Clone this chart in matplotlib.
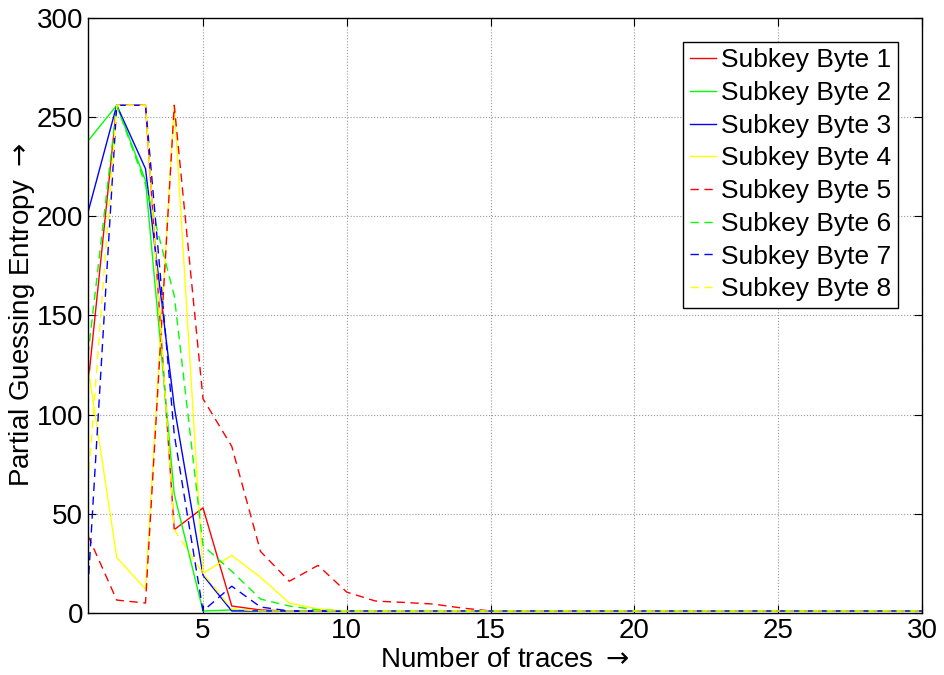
import numpy as np
import matplotlib
matplotlib.use('Agg')
from matplotlib import pyplot as plt

plt.rcParams['font.family'] = ['Liberation Sans', 'DejaVu Sans']
plt.rcParams['mathtext.fontset'] = 'dejavusans'

# number of traces 1..30
traces = list(range(1, 31))

byte1 = [115, 256, 256, 42, 53, 3.5, 1.5, 1, 1, 1, 1, 1, 1, 1, 1,
         1, 1, 1, 1, 1, 1, 1, 1, 1, 1, 1, 1, 1, 1, 1]
byte2 = [238, 256, 218, 60, 1, 1.5, 1, 1, 1, 1, 1, 1, 1, 1, 1,
         1, 1, 1, 1, 1, 1, 1, 1, 1, 1, 1, 1, 1, 1, 1]
byte3 = [202, 256, 224, 104, 19, 1, 1, 1, 1, 1, 1, 1, 1, 1, 1,
         1, 1, 1, 1, 1, 1, 1, 1, 1, 1, 1, 1, 1, 1, 1]
byte4 = [124, 28, 12, 256, 20, 29, 18, 5, 2, 1, 1, 1, 1, 1, 1,
         1, 1, 1, 1, 1, 1, 1, 1, 1, 1, 1, 1, 1, 1, 1]
byte5 = [39, 6.5, 5, 256, 108, 84, 31, 16, 24, 10.5, 6, 5.3, 4.5, 2.5, 1,
         1, 1, 1, 1, 1, 1, 1, 1, 1, 1, 1, 1, 1, 1, 1]
byte6 = [130, 256, 216, 160, 34, 21, 7, 3.5, 1.5, 1, 1, 1, 1, 1, 1,
         1, 1, 1, 1, 1, 1, 1, 1, 1, 1, 1, 1, 1, 1, 1]
byte7 = [12.6, 256, 256, 90, 1, 13.5, 3, 1, 1, 1, 1, 1, 1, 1, 1,
         1, 1, 1, 1, 1, 1, 1, 1, 1, 1, 1, 1, 1, 1, 1]
byte8 = [65, 256, 256, 42, 20, 2, 1, 1, 1, 1, 1, 1, 1, 1, 1,
         1, 1, 1, 1, 1, 1, 1, 1, 1, 1, 1, 1, 1, 1, 1]

series = [byte1, byte2, byte3, byte4, byte5, byte6, byte7, byte8]
labels = ['Subkey Byte %d' % i for i in range(1, 9)]
colors = ['#ff0000', '#00ff00', '#0000ff', '#ffff00'] * 2

fig = plt.figure(figsize=(9.44, 6.75), dpi=100)
ax = fig.add_axes([0.0932, 0.0919, 0.8835, 0.8814])

for i, (ys, lab, c) in enumerate(zip(series, labels, colors)):
    if i < 4:
        ax.plot(traces, ys, color=c, lw=1.0, label=lab)
    else:
        ax.plot(traces, ys, color=c, lw=1.0, label=lab, dashes=(6, 4))

ax.set_xlim(1, 30)
ax.set_ylim(0, 300)
ax.set_xticks([5, 10, 15, 20, 25, 30])
ax.set_yticks(range(0, 301, 50))
ax.grid(True, linestyle=':', color='#999999', linewidth=0.8)
ax.tick_params(direction='in', top=True, right=True, labelsize=20, length=6)
for s in ax.spines.values():
    s.set_linewidth(1.0)

ax.set_xlabel(r'Number of traces $\rightarrow$', fontsize=20, labelpad=2)
ax.set_ylabel(r'Partial Guessing Entropy $\rightarrow$', fontsize=20, labelpad=0)

leg = ax.legend(loc='upper right', fontsize=19, frameon=True, fancybox=False,
                edgecolor='black', framealpha=1, handlelength=1.0,
                handletextpad=0.2, labelspacing=0.33, borderpad=0.25,
                borderaxespad=0.9)
leg.get_frame().set_linewidth(1.0)

plt.savefig('out.png', dpi=100)
